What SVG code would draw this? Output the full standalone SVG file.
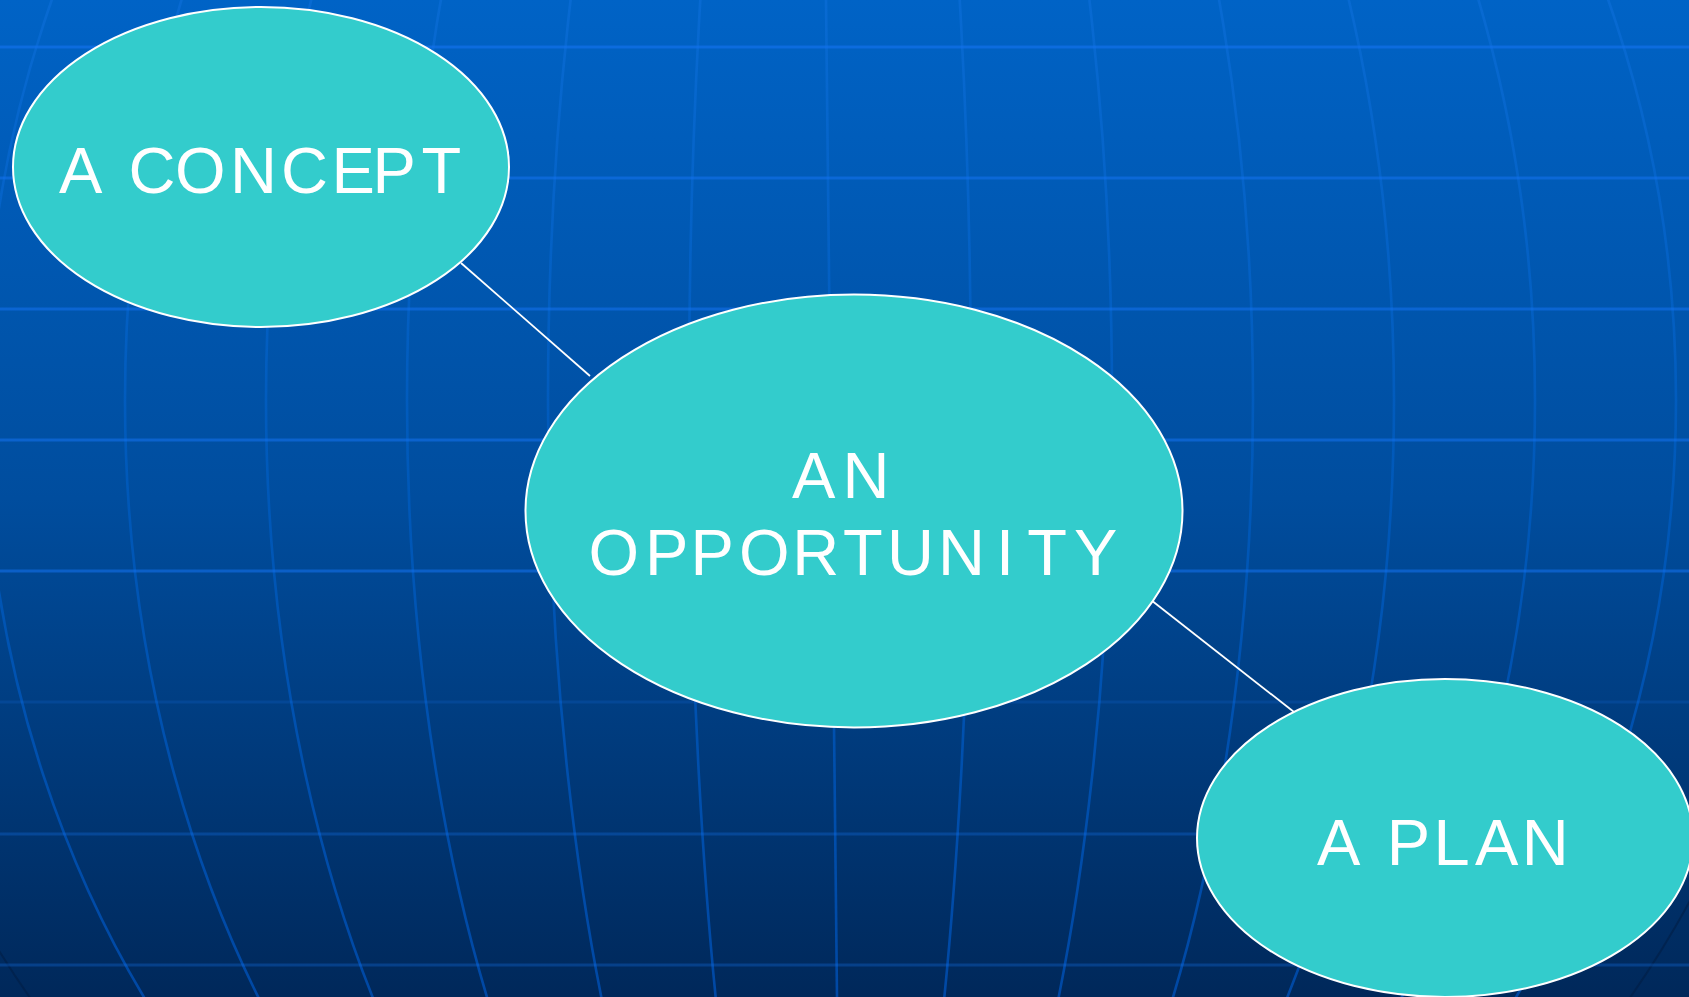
<svg xmlns="http://www.w3.org/2000/svg" width="1689" height="997" viewBox="0 0 1689 997">
  <defs>
    <linearGradient id="bg" x1="0" y1="0" x2="0" y2="1">
      <stop offset="0" stop-color="#0063C6"/>
      <stop offset="0.5" stop-color="#004D9E"/>
      <stop offset="1" stop-color="#00285A"/>
    </linearGradient>
    <linearGradient id="meridian" gradientUnits="userSpaceOnUse" x1="0" y1="0" x2="0" y2="997">
      <stop offset="0" stop-color="#086AD2"/>
      <stop offset="0.5" stop-color="#0058B8"/>
      <stop offset="1" stop-color="#0048A4"/>
    </linearGradient>
    <style>
      .meridian { fill: none; stroke: url(#meridian); stroke-width: 2.6; }
      .rim { fill: none; stroke: #001E44; stroke-opacity: 0.55; stroke-width: 2; }
      .parallel { stroke: #1473F0; stroke-width: 3; }
      .node ellipse { fill: #33CCCC; stroke: #FFFFFF; stroke-width: 2; }
      .node text { font-family: "Liberation Sans", Arial, sans-serif; font-size: 65px; fill: #FFFFFF; text-anchor: start; }
      .link { stroke: #FFFFFF; stroke-width: 1.8; }
    </style>
  </defs>

  <!-- backdrop: gradient with a globe grid -->
  <rect x="0" y="0" width="1689" height="997" fill="url(#bg)"/>
  <g id="globe-grid">
    <!-- meridians: paired arcs of one ellipse per step -->
    <ellipse class="meridian" cx="830" cy="400" rx="141" ry="1020"/>
    <ellipse class="meridian" cx="830" cy="400" rx="282" ry="1020"/>
    <ellipse class="meridian" cx="830" cy="400" rx="423" ry="1020"/>
    <ellipse class="meridian" cx="830" cy="400" rx="564" ry="1020"/>
    <ellipse class="meridian" cx="830" cy="400" rx="705" ry="1020"/>
    <ellipse class="meridian" cx="830" cy="400" rx="846" ry="1020"/>
    <line class="meridian" x1="826" y1="0" x2="837" y2="997"/>
    <ellipse class="rim" cx="830" cy="400" rx="987" ry="1020"/>
    <!-- parallels -->
    <line class="parallel" x1="0" y1="47" x2="1689" y2="47" stroke-opacity="0.6"/>
    <line class="parallel" x1="0" y1="178" x2="1689" y2="178" stroke-opacity="0.55"/>
    <line class="parallel" x1="0" y1="309" x2="1689" y2="309" stroke-opacity="0.55"/>
    <line class="parallel" x1="0" y1="440" x2="1689" y2="440" stroke-opacity="0.55"/>
    <line class="parallel" x1="0" y1="571" x2="1689" y2="571" stroke-opacity="0.55"/>
    <line class="parallel" x1="0" y1="702" x2="1689" y2="702" stroke-opacity="0.18"/>
    <line class="parallel" x1="0" y1="834" x2="1689" y2="834" stroke-opacity="0.3"/>
    <line class="parallel" x1="0" y1="965" x2="1689" y2="965" stroke-opacity="0.3"/>
  </g>

  <g id="connectors">
    <line class="link" x1="461" y1="263" x2="590" y2="376"/>
    <line class="link" x1="1151" y1="600" x2="1294" y2="712"/>
  </g>

  <g id="node-concept" class="node">
    <ellipse cx="261" cy="167" rx="248" ry="160"/>
    <text x="59 102 128.5 175 230 281 331.5 372.5 421.5" y="193">A CONCEPT</text>
  </g>

  <g id="node-opportunity" class="node">
    <ellipse cx="854" cy="511" rx="328.5" ry="216.5"/>
    <text x="792 842.5" y="498">AN</text>
    <text x="588.5 645 690.6 738.9 792.3 842.9 886.9 937.9 996 1027.2 1074" y="575">OPPORTUNITY</text>
  </g>

  <g id="node-plan" class="node">
    <ellipse cx="1445" cy="838" rx="248" ry="159"/>
    <text x="1317 1375 1386.7 1433.6 1475 1521.8" y="865">A PLAN</text>
  </g>
</svg>
